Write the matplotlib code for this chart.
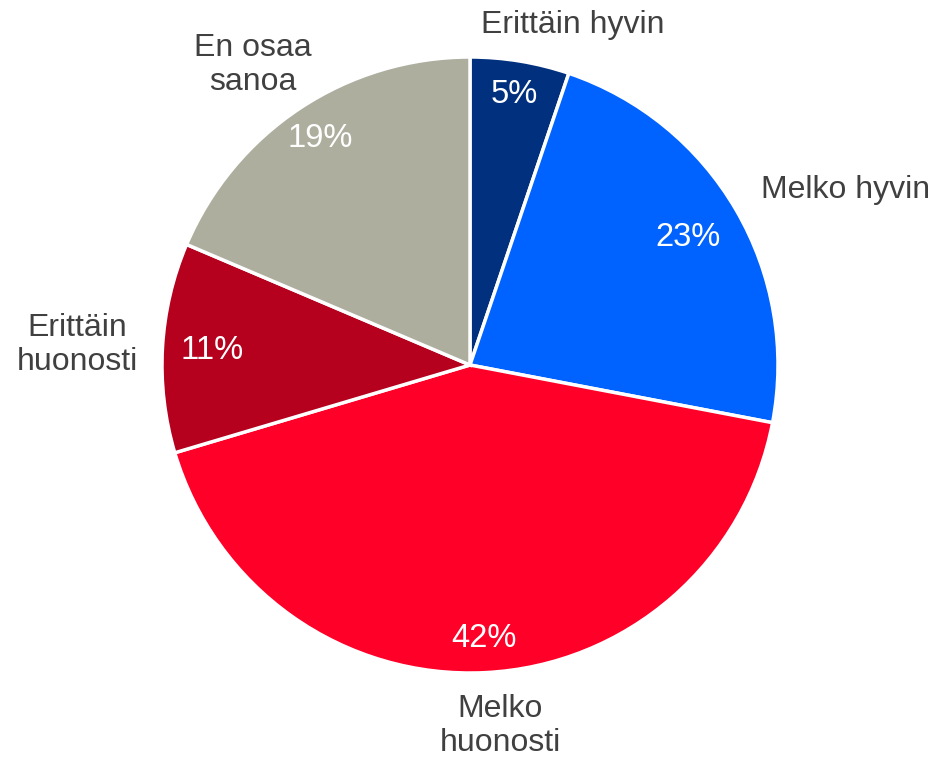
import matplotlib
matplotlib.use("Agg")
from matplotlib import pyplot as plt
import numpy as np

plt.rcParams['font.family'] = ['Liberation Sans', 'DejaVu Sans']

# shares (printed as rounded %)
labels = ['Erittäin hyvin', 'Melko hyvin', 'Melko\nhuonosti', 'Erittäin\nhuonosti', 'En osaa\nsanoa']
values = [5.2, 22.8, 42.4, 11.0, 18.6]
colors = ['#00307E', '#0062FF', '#FF0028', '#B5001E', '#ADAE9E']

# where the category names and % labels sit (Excel "best fit" look)
label_pos = [(0.334, 1.104), (1.220, 0.568), (0.097, -1.172), (-1.276, 0.065), (-0.705, 0.974)]
pct_dist = [0.89, 0.82, 0.89, 0.84, 0.88]

fig = plt.figure(figsize=(9.35, 7.57), dpi=100)
cx, cy, r = 470, 365, 308
ax = fig.add_axes([(cx - r) / 935, (757 - cy - r) / 757, 2 * r / 935, 2 * r / 757])

wedges, _ = ax.pie(values, colors=colors, startangle=90, counterclock=False,
                   wedgeprops=dict(edgecolor='white', linewidth=2.5))
ax.set_xlim(-1, 1)
ax.set_ylim(-1, 1)
ax.set_aspect('equal')

for w, v, d in zip(wedges, values, pct_dist):
    ang = np.deg2rad((w.theta1 + w.theta2) / 2)
    ax.text(d * np.cos(ang), d * np.sin(ang), f'{round(v):.0f}%',
            ha='center', va='center', color='white', fontsize=23.5)

for lab, (x, y) in zip(labels, label_pos):
    ax.text(x, y, lab, ha='center', va='center', color='#404040',
            fontsize=23, linespacing=1.2)

fig.savefig('out.png', dpi=100)
